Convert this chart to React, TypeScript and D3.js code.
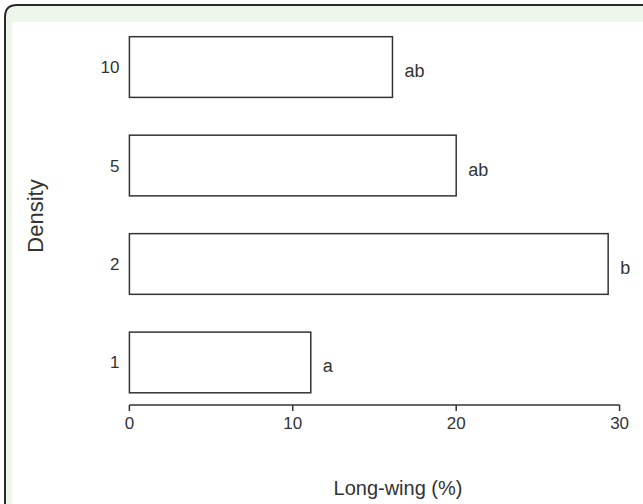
import React from "react";
import * as d3 from "d3";

const categories = ["10", "5", "2", "1"];
const values = [16.1, 20.0, 29.3, 11.1];
const letters = ["ab", "ab", "b", "a"];
const xTicks = [0, 10, 20, 30];

const W = 643;
const H = 504;

export default function App() {
  const x = d3.scaleLinear().domain([0, 30]).range([129.4, 619.6]);
  const y = d3
    .scaleBand<string>()
    .domain(categories)
    .range([36.7, 392.8])
    .paddingInner(0.3836)
    .paddingOuter(0);
  const bw = y.bandwidth();
  const axisY = 405;
  const font = "'Liberation Sans', Arial, sans-serif";
  const ink = "#333";

  const framePath = `M5,${H} L5,17 Q5,5 17,5 L${W},5`;

  return (
    <div style={{ position: "fixed", left: 0, top: 0, width: W, height: H }}>
      <svg width={W} height={H} style={{ display: "block" }}>
        <rect x={0} y={0} width={W} height={H} fill="#fff" />
        <path d={`M5,${H} L5,17 Q5,5 17,5 L${W},5 L${W},22 L12,22 L12,${H} Z`} fill="#eef5ea" />
        <path d={framePath} fill="none" stroke="#2a2a2a" strokeWidth={2} />
        {categories.map((c, i) => (
          <g key={c}>
            <rect
              x={x(0)}
              y={y(c)!}
              width={x(values[i]) - x(0)}
              height={bw}
              fill="#fff"
              stroke={ink}
              strokeWidth={1.5}
            />
            <text
              x={x(0) - 10}
              y={y(c)! + bw / 2 + 6}
              textAnchor="end"
              fontFamily={font}
              fontSize={17}
              fill={ink}
            >
              {c}
            </text>
            <text
              x={x(values[i]) + 12}
              y={y(c)! + bw / 2 + 10}
              textAnchor="start"
              fontFamily={font}
              fontSize={18}
              fill={ink}
            >
              {letters[i]}
            </text>
          </g>
        ))}
        <line x1={x(0)} x2={x(30)} y1={axisY} y2={axisY} stroke={ink} strokeWidth={1.5} />
        {xTicks.map((t) => (
          <g key={t}>
            <line x1={x(t)} x2={x(t)} y1={axisY} y2={axisY + 6} stroke={ink} strokeWidth={1.5} />
            <text
              x={x(t)}
              y={axisY + 24}
              textAnchor="middle"
              fontFamily={font}
              fontSize={17}
              fill={ink}
            >
              {t}
            </text>
          </g>
        ))}
        <text
          x={398}
          y={495}
          textAnchor="middle"
          fontFamily={font}
          fontSize={20}
          fill={ink}
        >
          Long-wing (%)
        </text>
        <text
          transform={`translate(43,216) rotate(-90)`}
          textAnchor="middle"
          fontFamily={font}
          fontSize={22}
          fill={ink}
        >
          Density
        </text>
      </svg>
    </div>
  );
}
